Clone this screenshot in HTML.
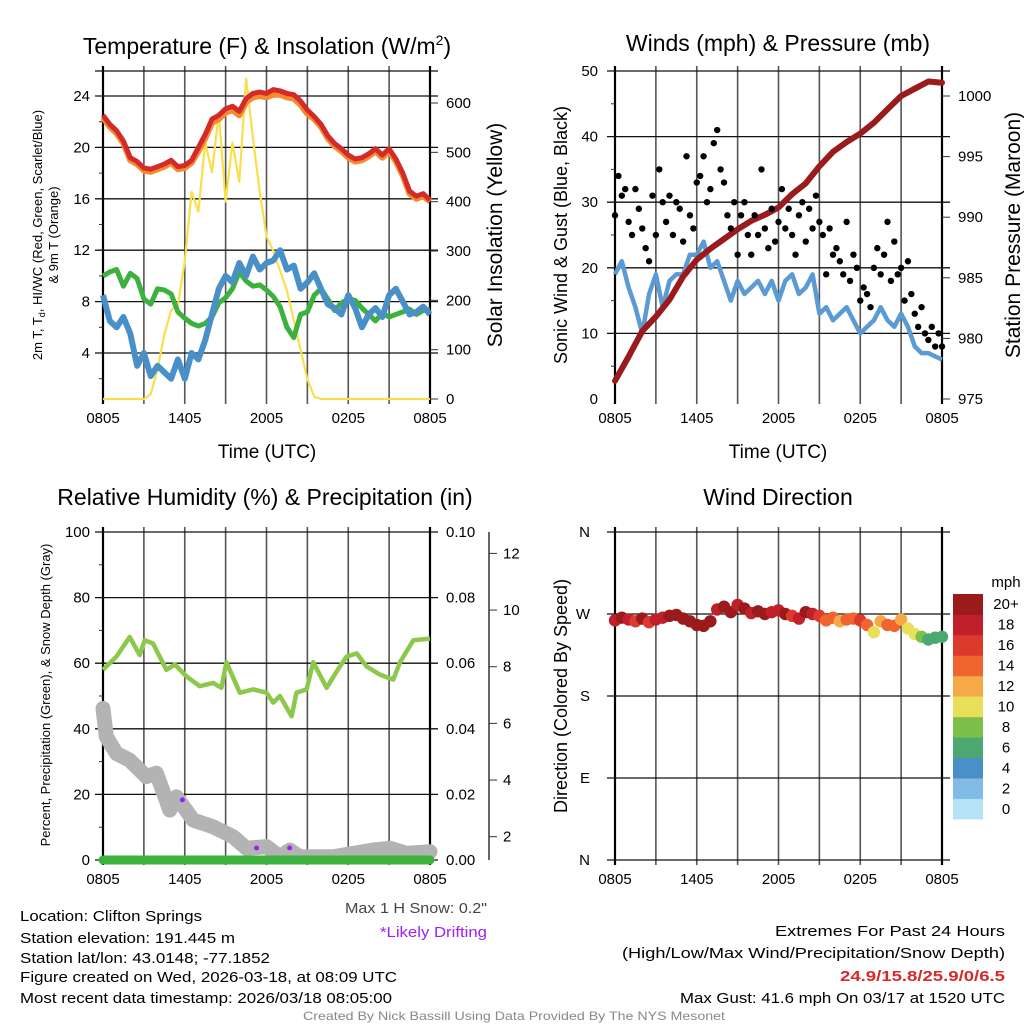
<!DOCTYPE html>
<html><head><meta charset="utf-8">
<style>
html,body{margin:0;padding:0;background:#fff;}
svg{display:block;font-family:"Liberation Sans",sans-serif;}
</style></head>
<body>
<svg id="chart" width="1024" height="1024" viewBox="0 0 1024 1024" xmlns="http://www.w3.org/2000/svg">
<rect x="0" y="0" width="1024" height="1024" fill="#fff"/>
<text x="267" y="54" font-size="23" text-anchor="middle">Temperature (F) &amp; Insolation (W/m<tspan dy="-9" font-size="14">2</tspan><tspan dy="9">)</tspan></text>
<text x="778" y="51" font-size="23" text-anchor="middle">Winds (mph) &amp; Pressure (mb)</text>
<text x="265" y="505" font-size="23" text-anchor="middle">Relative Humidity (%) &amp; Precipitation (in)</text>
<text x="778" y="505" font-size="23" text-anchor="middle">Wind Direction</text>

<text x="267" y="458" font-size="19" text-anchor="middle">Time (UTC)</text>
<text x="778" y="458" font-size="19" text-anchor="middle">Time (UTC)</text>

<text transform="translate(42,235) rotate(-90)" font-size="13" text-anchor="middle">2m T, T<tspan dy="3" font-size="9">d</tspan><tspan dy="-3">, HI/WC (Red, Green, Scarlet/Blue)</tspan></text>
<text transform="translate(58,235) rotate(-90)" font-size="13" text-anchor="middle">&amp; 9m T (Orange)</text>
<text transform="translate(502,235) rotate(-90)" font-size="21" text-anchor="middle">Solar Insolation (Yellow)</text>
<text transform="translate(567,235) rotate(-90)" font-size="18" text-anchor="middle">Sonic Wind &amp; Gust (Blue, Black)</text>
<text transform="translate(1020,235) rotate(-90)" font-size="21" text-anchor="middle">Station Pressure (Maroon)</text>
<text transform="translate(50,695) rotate(-90)" font-size="13" text-anchor="middle">Percent, Precipitation (Green), &amp; Snow Depth (Gray)</text>
<text transform="translate(567,696) rotate(-90)" font-size="18" text-anchor="middle">Direction (Colored By Speed)</text>

<g font-size="15">
<text x="20" y="921" textLength="182" lengthAdjust="spacingAndGlyphs">Location: Clifton Springs</text>
<text x="20" y="943" textLength="215" lengthAdjust="spacingAndGlyphs">Station elevation: 191.445 m</text>
<text x="20" y="963" textLength="250" lengthAdjust="spacingAndGlyphs">Station lat/lon: 43.0148; -77.1852</text>
<text x="20" y="982" textLength="377" lengthAdjust="spacingAndGlyphs">Figure created on Wed, 2026-03-18, at 08:09 UTC</text>
<text x="20" y="1003" textLength="372" lengthAdjust="spacingAndGlyphs">Most recent data timestamp: 2026/03/18 08:05:00</text>
<text x="345" y="913" fill="#444" textLength="142" lengthAdjust="spacingAndGlyphs">Max 1 H Snow: 0.2"</text>
<text x="380" y="937" fill="#a020f0" textLength="107" lengthAdjust="spacingAndGlyphs">*Likely Drifting</text>
<text x="775" y="936" textLength="230" lengthAdjust="spacingAndGlyphs">Extremes For Past 24 Hours</text>
<text x="622" y="958" textLength="383" lengthAdjust="spacingAndGlyphs">(High/Low/Max Wind/Precipitation/Snow Depth)</text>
<text x="840" y="981" fill="#d42a2a" font-weight="bold" textLength="165" lengthAdjust="spacingAndGlyphs">24.9/15.8/25.9/0/6.5</text>
<text x="680" y="1003" textLength="325" lengthAdjust="spacingAndGlyphs">Max Gust: 41.6 mph On 03/17 at 1520 UTC</text>
<text x="303" y="1020" font-size="12" fill="#888" textLength="422" lengthAdjust="spacingAndGlyphs">Created By Nick Bassill Using Data Provided By The NYS Mesonet</text>
</g>
<text x="1006" y="587" font-size="15" text-anchor="middle">mph</text>
</svg>
<script>
// ---------- data ----------
const xTickLabels = ['0805','1405','2005','0205','0805'];
const xTickHours = [0,6,12,18,24];
// temperature panel, half-hourly 0..24h
const tempRed = [22.5,21.8,21.3,20.5,19.2,18.9,18.4,18.3,18.5,18.7,19.0,18.5,18.6,19.0,20.0,21.0,22.2,22.5,23.0,23.2,22.8,23.8,24.2,24.3,24.2,24.5,24.4,24.2,24.1,23.6,22.9,22.4,21.8,20.9,20.3,19.9,19.4,19.1,19.2,19.5,19.9,19.4,19.9,19.1,18.0,16.6,16.2,16.4,15.9];
const tempOrange = [22.3,21.6,21.1,20.3,19.0,18.7,18.2,18.1,18.3,18.5,18.8,18.3,18.4,18.8,19.7,20.7,21.9,22.2,22.7,22.9,22.5,23.5,23.9,24.0,23.9,24.1,24.1,23.9,23.8,23.3,22.6,22.2,21.6,20.7,20.1,19.7,19.2,18.9,19.0,19.3,19.7,19.2,19.7,18.9,17.8,16.4,16.0,16.2,15.8];
const dewGreen = [10.0,10.3,10.5,9.2,10.2,9.8,8.2,7.8,9.0,8.9,8.6,7.2,6.7,6.3,6.1,6.3,6.8,7.9,8.3,9.0,10.3,9.6,9.2,9.3,8.9,8.4,7.6,6.0,5.2,7.0,7.2,8.5,9.0,8.2,7.3,7.9,8.2,8.1,7.5,7.0,6.5,7.1,6.8,7.0,7.2,7.4,7.0,7.3,7.4];
const windChillBlue = [8.5,6.5,6.0,6.8,5.5,3.0,4.0,2.2,3.0,2.5,2.0,3.5,2.0,4.0,3.5,5.0,7.0,9.0,10.0,9.5,11.0,10.0,11.5,10.5,11.0,11.2,12.0,10.5,10.8,9.0,9.5,10.2,9.0,7.8,7.5,7.0,8.5,7.5,6.0,7.0,7.5,6.8,8.5,9.0,8.0,7.0,7.2,7.6,7.0];
const insolation = [0,0,0,0,0,0,0,10,60,130,180,190,280,420,380,520,460,580,400,520,440,650,530,420,330,300,260,220,160,100,40,5,0,0,0,0,0,0,0,0,0,0,0,0,0,0,0,0,0];
const tempTicks = [4,8,12,16,20,24];
const insTicks = [0,100,200,300,400,500,600];
// winds panel
const windBlue = [19,21,17,14,10,16,19,14,18,19,19,22,22,24,20,21,18,15,18,16,17,18,16,18,15,18,19,16,17,19,13,14,12,13,14,12,10,11,12,14,12,11,13,11,8,7,7,6.5,6];
const gusts = [28,34,31,32,27,25,32,29,26, 23,21,31,25,35,30,27,31, 25,30,29,24,37,28,26,33, 34,37,30,32,39,41,35,33, 28,26,30,22,28,30,25,22, 28,25,35,26,23,29,24,27, 32,26,29,25,22,28,30,24, 29,26,31,27,25,19,26,22, 23,21,19,27,18,22,20,15, 17,16,14,20,23,19,22,27, 18,24,19,20,15,21,16,13, 11,14,10,9,11,8,10,8];
const pressure = [976.5,978.5,980.6,981.8,983.2,985.1,986.5,987.4,988.2,989.0,989.7,990.2,990.8,991.9,992.8,994.2,995.4,996.2,996.9,997.8,998.9,1000.0,1000.6,1001.2,1001.1];
const windTicks = [0,10,20,30,40,50];
const presTicks = [975,980,985,990,995,1000];
// humidity panel
const rhHours = [0,0.98,1.96,2.69,3.06,3.67,4.65,5.27,6.12,7.1,8.08,8.69,9.06,10.04,11.02,12.0,12.49,12.98,13.84,14.2,14.94,15.43,16.41,17.15,17.88,18.62,19.35,20.33,21.31,21.8,22.78,24];
const rhValues = [58,62,68,62.5,67,66,58,59.6,56,53,54,52.5,60.3,51,52,51,48,50,43.8,51,52,60.3,52.5,57.5,62,63,59,56.5,55,60.3,67,67.5];
const snowHours = [0,0.24,0.98,1.96,2.69,3.18,3.92,4.9,5.39,6.61,8.08,9.55,10.53,12.0,12.98,13.71,14.45,16.9,18.37,19.84,21.07,22.29,24];
const snowDepth = [6.53,5.53,4.94,4.7,4.35,4.12,4.24,2.94,3.41,2.59,2.35,2.0,1.59,1.65,1.29,1.53,1.29,1.29,1.41,1.53,1.59,1.41,1.47];
const driftHours = [5.83,11.27,13.7];
const driftDepth = [3.3,1.6,1.6];
const precipHours = [0,24];
const precipValues = [0,0];
const rhTicks = [0,20,40,60,80,100];
const precipTicks = [0,0.02,0.04,0.06,0.08,0.10];
const snowTicks = [2,4,6,8,10,12];
// wind direction panel, half-hourly
const dirDeg = [263,266,264,262,265,261,264,266,268,269,265,262,258,257,262,275,278,272,280,276,271,273,270,272,274,270,268,265,272,270,268,263,266,262,264,265,263,258,250,262,258,257,264,254,248,245,242,244,245];
const dirSpeed = [19,20,18,17,20,16,19,18,20,21,20,21,22,21,20,18,21,20,19,20,19,20,21,18,19,20,17,19,21,18,17,15,14,13,15,14,16,14,10,12,14,15,13,11,10,9,7,6,7];
const dirTickLabels = ['N','E','S','W','N'];
const dirTickDeg = [0,90,180,270,360];
const cbLabels = ['0','2','4','6','8','10','12','14','16','18','20+'];
const cbColors = ['#b6e2f6','#80bce6','#4a90c8','#4aa870','#7cc04a','#e8e05a','#f6a947','#f0652f','#dc3a2c','#c0202a','#9b1a1c'];

// ---------- helpers ----------
const NS='http://www.w3.org/2000/svg';
const svg=document.getElementById('chart');
function mk(tag,attrs,parent){const e=document.createElementNS(NS,tag);for(const k in attrs)e.setAttribute(k,attrs[k]);(parent||svg).appendChild(e);return e;}
function pathD(xs,ys){return xs.map((x,i)=>(i?'L':'M')+x.toFixed(1)+','+ys[i].toFixed(1)).join('');}
const halfHours = tempRed.map((_,i)=>i*0.5);
const hourly = pressure.map((_,i)=>i);
const qHours = gusts.map((_,i)=>i*0.25);

function panelFrame(g,x0,x1,y0,y1,gridYs,name){
  for(let i=0;i<=8;i++){
    const x=x0+(x1-x0)*i/8;
    const l=mk('line',{x1:x,x2:x,y1:y0-5,y2:y1+5,stroke:(i===0||i===8)?'#000':'#555','stroke-width':(i===0||i===8)?2.2:1.6},g);
    
    
  }
  gridYs.forEach(y=>{
    const l=mk('line',{x1:x0-8,x2:x1+8,y1:y,y2:y,stroke:'#111','stroke-width':1.3},g);
    
    
  });
  xTickHours.forEach((h,i)=>{
    const t=mk('text',{x:x0+(x1-x0)*h/24,y:y1+24,'font-size':15,'text-anchor':'middle'},g);
    t.textContent=xTickLabels[i];
    
    
  });
}
function tickLabels(g,vals,yf,x,anchor,fmt,name,size){
  vals.forEach(v=>{
    const t=mk('text',{x:x,y:yf(v)+5,'font-size':size||15,'text-anchor':anchor},g);
    t.textContent=fmt(v);
    
    
  });
}
function sideTicks(g,vals,yf,x,len,name){
  vals.forEach(v=>{
    const l=mk('line',{x1:x,x2:x+len,y1:yf(v),y2:yf(v),stroke:'#333','stroke-width':1},g);
    
    
  });
}

// ---------- panel 1: temperature ----------
{
  const g=mk('g',{});
  
  
  const xs=h=>103+h/24*327, yT=v=>96+(24-v)*12.85, yI=v=>399-v*296/600;
  panelFrame(g,103,430,71,399,tempTicks.map(yT).concat([71]),'temperature');
  sideTicks(g,insTicks,yI,430,8,'insolation-tick');
  sideTicks(g,[2,6,10,14,18,22],yT,99,4,'temperature-minor-tick');
  tickLabels(g,tempTicks,yT,90,'end',v=>v,'temperature-y-tick-label');
  tickLabels(g,insTicks,yI,446,'start',v=>v,'insolation-y-tick-label');
  const ins=mk('path',{d:pathD(halfHours.map(xs),insolation.map(yI)),fill:'none',stroke:'#f9e04b','stroke-width':2.2,'stroke-linejoin':'round'},g);
  
  
  const gr=mk('path',{d:pathD(halfHours.map(xs),dewGreen.map(yT)),fill:'none',stroke:'#3db13d','stroke-width':5,'stroke-linejoin':'round'},g);
  
  
  const bl=mk('path',{d:pathD(halfHours.map(xs),windChillBlue.map(yT)),fill:'none',stroke:'#4a90c8','stroke-width':6,'stroke-linejoin':'round'},g);
  
  
  const or=mk('path',{d:pathD(halfHours.map(xs),tempOrange.map(yT)),fill:'none',stroke:'#f58a2e','stroke-width':6,'stroke-linejoin':'round'},g);
  
  
  const rd=mk('path',{d:pathD(halfHours.map(xs),tempRed.map(yT)),fill:'none',stroke:'#d42a2a','stroke-width':5,'stroke-linejoin':'round'},g);
  
  
}

// ---------- panel 2: winds ----------
{
  const g=mk('g',{});
  
  
  const xs=h=>615+h/24*327, yW=v=>399-v*6.56, yP=v=>96+(1000-v)*12.12;
  panelFrame(g,615,942,71,399,windTicks.slice(1).map(yW),'winds');
  sideTicks(g,presTicks,yP,942,8,'pressure-tick');
  sideTicks(g,[5,15,25,35,45],yW,611,4,'wind-minor-tick');
  tickLabels(g,windTicks,yW,598,'end',v=>v,'wind-y-tick-label');
  tickLabels(g,presTicks,yP,958,'start',v=>v,'pressure-y-tick-label');
  const bl=mk('path',{d:pathD(halfHours.map(xs),windBlue.map(yW)),fill:'none',stroke:'#5b9bd5','stroke-width':4.5,'stroke-linejoin':'round'},g);
  
  
  const pr=mk('path',{d:pathD(hourly.map(xs),pressure.map(yP)),fill:'none',stroke:'#9b1a1c','stroke-width':6,'stroke-linejoin':'round','stroke-linecap':'round'},g);
  
  
  gusts.forEach((v,i)=>{
    const c=mk('circle',{cx:xs(qHours[i]),cy:yW(v),r:3.2,fill:'#000'},g);
    
    
  });
}

// ---------- panel 3: humidity ----------
{
  const g=mk('g',{});
  
  
  const xs=h=>103+h/24*327, yR=v=>532+(100-v)*3.28, yPr=v=>860-v*3280, yS=v=>836.7-(v-2)*28.33;
  panelFrame(g,103,430,532,860,rhTicks.map(yR),'humidity');
  sideTicks(g,[10,30,50,70,90],yR,99,4,'humidity-minor-tick');
  tickLabels(g,rhTicks,yR,90,'end',v=>v,'humidity-y-tick-label');
  tickLabels(g,precipTicks,yPr,446,'start',v=>v.toFixed(2),'precip-y-tick-label');
  const ax=mk('line',{x1:489,x2:489,y1:532,y2:860,stroke:'#333','stroke-width':1.5},g);
  
  
  sideTicks(g,snowTicks,yS,489,8,'snow-depth-tick');
  tickLabels(g,snowTicks,yS,503,'start',v=>v,'snow-depth-tick-label');
  const rh=mk('path',{d:pathD(rhHours.map(xs),rhValues.map(yR)),fill:'none',stroke:'#8cc84b','stroke-width':4.5,'stroke-linejoin':'round'},g);
  
  
  const sn=mk('path',{d:pathD(snowHours.map(xs),snowDepth.map(yS)),fill:'none',stroke:'#b3b3b3','stroke-width':15,'stroke-linejoin':'round','stroke-linecap':'round'},g);
  
  
  const pc=mk('path',{d:pathD(precipHours.map(xs),precipValues.map(yPr)),fill:'none',stroke:'#3db13d','stroke-width':9,'stroke-linecap':'round'},g);
  
  
  driftHours.forEach((h,i)=>{
    const c=mk('circle',{cx:xs(h),cy:yS(driftDepth[i]),r:2.5,fill:'#a020f0'},g);
    
    
  });
}

// ---------- panel 4: wind direction ----------
{
  const g=mk('g',{});
  
  
  const xs=h=>615+h/24*327, yD=d=>860-d/360*328;
  panelFrame(g,615,942,532,860,dirTickDeg.map(yD),'direction');
  tickLabels(g,dirTickDeg,yD,590,'end',(v)=>dirTickLabels[dirTickDeg.indexOf(v)],'direction-y-tick-label',15);
  dirDeg.forEach((d,i)=>{
    const idx=Math.min(10,Math.floor(dirSpeed[i]/2));
    const c=mk('circle',{cx:xs(halfHours[i]),cy:yD(d),r:6.2,fill:cbColors[idx]},g);
    
    
  });
  const cb=mk('g',{},g);
  
  
  const bh=(819-594)/11;
  cbColors.forEach((c,i)=>{
    const y=819-(i+1)*bh;
    const r=mk('rect',{x:953,y:y,width:30,height:bh+0.4,fill:c},cb);
    
    
    const t=mk('text',{x:1006,y:y+bh/2+5,'font-size':15,'text-anchor':'middle'},cb);
    t.textContent=cbLabels[i];
    
    
  });
}
</script>
</body></html>
